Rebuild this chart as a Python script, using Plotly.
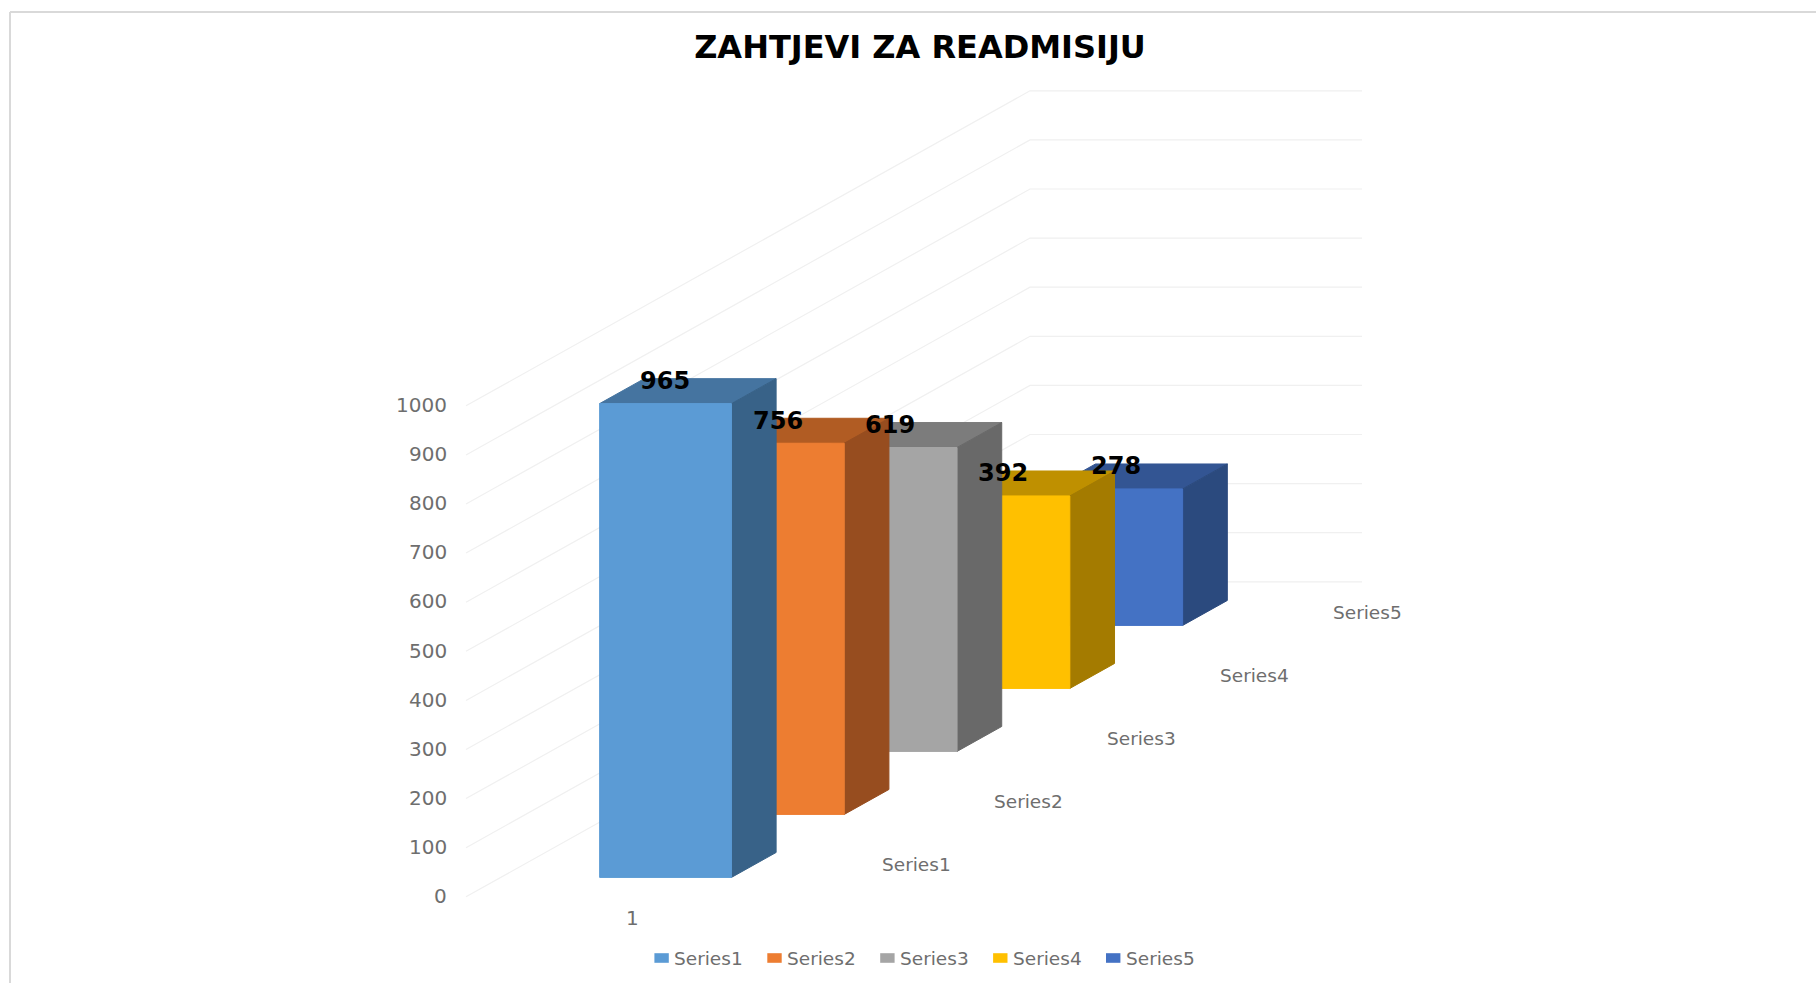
import plotly.graph_objects as go

# ---------- data ----------
title_text = "ZAHTJEVI ZA READMISIJU"
series_names = ["Series1", "Series2", "Series3", "Series4", "Series5"]
series_values = [965, 756, 619, 392, 278]
category_labels = ["1"]
value_ticks = [0, 100, 200, 300, 400, 500, 600, 700, 800, 900, 1000]

front_colors = ["#5B9BD5", "#ED7D31", "#A5A5A5", "#FFC000", "#4472C4"]
side_colors = ["#386288", "#974D1F", "#696969", "#A47B00", "#2B4A7E"]
top_colors = ["#4574A0", "#B15C23", "#7C7C7C", "#BF9000", "#335593"]

# ---------- oblique projection of the 3-D chart box ----------
W, H = 1816, 983
ORIGIN_X, ORIGIN_Y = 466.0, 896.8      # front-left corner of the floor, page px
CAT_SPAN = 332.0                       # px along the category axis
PX_PER_VALUE = 0.491                   # px per value unit
CELL_DX, CELL_DY = 112.8, 63.0         # px per series along the depth axis
BAR_CAT = (0.298, 0.695)               # bar extent inside the category
BAR_DEPTH = (0.3076, 0.7037)           # bar extent inside a series cell
Y_MIN = -(H - ORIGIN_Y) / PX_PER_VALUE
Y_MAX = ORIGIN_Y / PX_PER_VALUE


def project(cat, depth, value):
    """cat 0..1 across, depth 0..5 into the chart, value in data units."""
    x = ORIGIN_X + cat * CAT_SPAN + depth * CELL_DX
    y = value + depth * CELL_DY / PX_PER_VALUE
    return x, y


def px_y(page_y):
    return (ORIGIN_Y - page_y) / PX_PER_VALUE


def poly(points, color, name, edge=1.0):
    xs, ys = zip(*points)
    return go.Scatter(
        x=list(xs) + [xs[0]], y=list(ys) + [ys[0]],
        mode="lines", line=dict(width=edge, color=color),
        fill="toself", fillcolor=color, name=name,
        showlegend=False, hoverinfo="name",
    )


fig = go.Figure()

# grid: side wall then back wall
GRID = "#F0F0F0"
for v in value_ticks:
    p = [project(0, 0, v), project(0, 5, v), project(1, 5, v)]
    fig.add_trace(go.Scatter(x=[q[0] for q in p], y=[q[1] for q in p], mode="lines",
                             line=dict(color=GRID, width=1.2), showlegend=False, hoverinfo="skip"))

# bars, painted from the back to the front
n = len(series_values)
for i in reversed(range(n)):
    v = series_values[i]
    c0, c1 = BAR_CAT
    d0, d1 = i + BAR_DEPTH[0], i + BAR_DEPTH[1]
    nm = series_names[i]
    fig.add_trace(poly([project(c0, d0, v), project(c1, d0, v), project(c1, d1, v), project(c0, d1, v)], top_colors[i], nm))
    fig.add_trace(poly([project(c1, d0, 0), project(c1, d1, 0), project(c1, d1, v), project(c1, d0, v)], side_colors[i], nm))
    fig.add_trace(poly([project(c0, d0, 0), project(c1, d0, 0), project(c1, d0, v), project(c0, d0, v)], front_colors[i], nm))

annotations = []


def label(x, y, text, size, color="#6E6E6E", xanchor="center", bold=False):
    annotations.append(dict(
        x=x, y=y, xref="x", yref="y", text=f"<b>{text}</b>" if bold else text, showarrow=False,
        xanchor=xanchor, yanchor="middle", borderpad=0,
        font=dict(family="DejaVu Sans", size=size, color=color),
    ))


# value axis labels
for v in value_ticks:
    label(447.5, v + 1.5, str(v), 20, xanchor="right")

# category label
label(632, px_y(917.5), category_labels[0], 20)

# series (depth axis) labels
for i, nm in enumerate(series_names):
    x, y = project(1, i + 0.5, 0)
    label(x + 61.6, y + 2, nm, 18.5)

# data labels
for i, v in enumerate(series_values):
    x, y = project(0.5, i + BAR_DEPTH[0], v)
    label(x - 2, y + 22.5 / PX_PER_VALUE, str(v), 24, color="#000000", bold=True)

# legend row
LEG_X0, LEG_STEP, LEG_Y, SW_W, SW_H = 654.4, 112.9, 958.0, 14.4, 9.6
for i, nm in enumerate(series_names):
    x0 = LEG_X0 + i * LEG_STEP
    y0, y1 = px_y(LEG_Y - SW_H / 2), px_y(LEG_Y + SW_H / 2)
    fig.add_trace(poly([(x0, y0), (x0 + SW_W, y0), (x0 + SW_W, y1), (x0, y1)], front_colors[i], nm, edge=0))
    label(x0 + 19, px_y(LEG_Y), nm, 18.5, xanchor="left")

fig.update_layout(
    width=W, height=H, autosize=False,
    margin=dict(l=0, r=0, t=0, b=0),
    paper_bgcolor="#FFFFFF", plot_bgcolor="#FFFFFF",
    showlegend=False,
    title=dict(text=f"<b>{title_text}</b>", x=920 / W, y=1 - 46.5 / H, xanchor="center", yanchor="middle",
               font=dict(family="DejaVu Sans", size=32, color="#000000")),
    xaxis=dict(range=[0, W], visible=False, fixedrange=True),
    yaxis=dict(range=[Y_MIN, Y_MAX], visible=False, fixedrange=True),
    annotations=annotations,
    shapes=[
        dict(type="line", xref="paper", yref="paper", x0=10 / W, x1=1, y0=1 - 12 / H, y1=1 - 12 / H,
             line=dict(color="#D9D9D9", width=2)),
        dict(type="line", xref="paper", yref="paper", x0=10 / W, x1=10 / W, y0=1 - 12 / H, y1=0,
             line=dict(color="#D9D9D9", width=2)),
    ],
)

fig.write_html("out.html", config=dict(displayModeBar=False, responsive=False),
               post_script="document.body.style.margin='0';document.body.style.overflow='hidden';")
